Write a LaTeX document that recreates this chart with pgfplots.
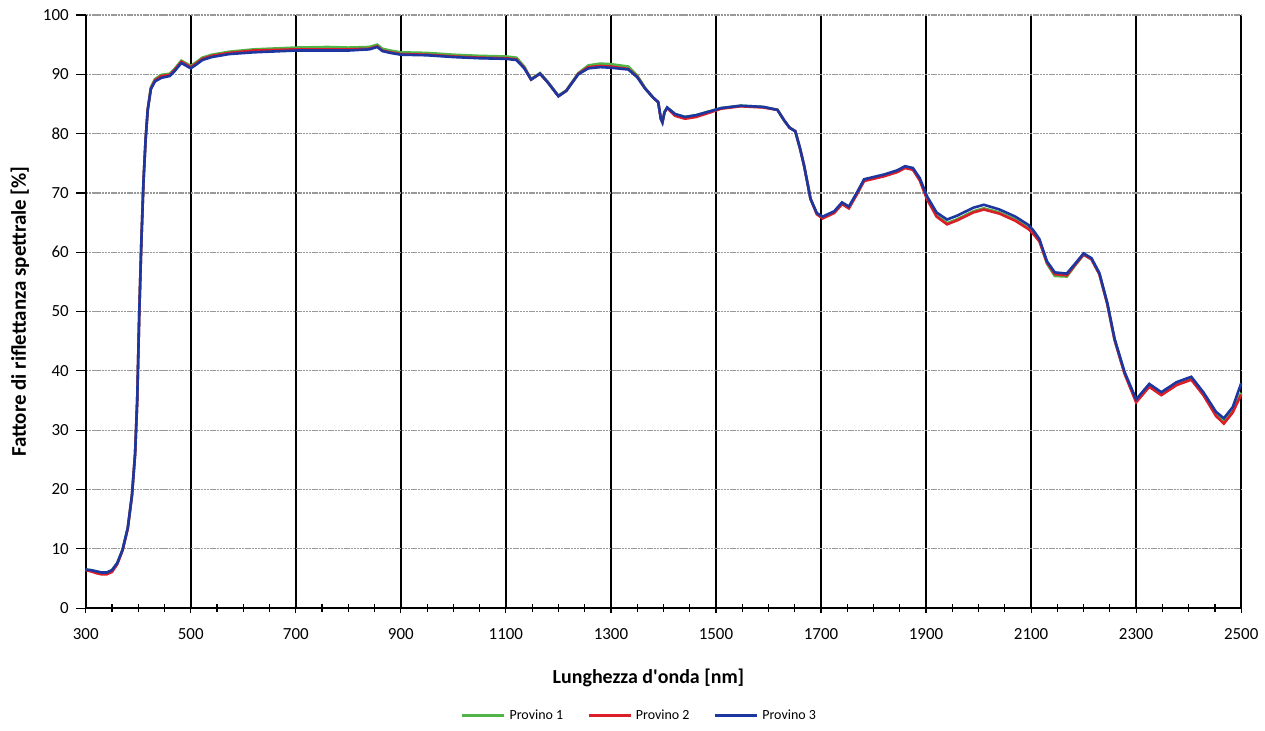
\documentclass[border=0pt]{standalone}
\usepackage{pgfplots}
\pgfplotsset{compat=1.18}
\usepackage{pgfplotstable}
\usepackage{fontspec}
\setmainfont{Carlito}
\definecolor{cg}{RGB}{80,180,70}
\definecolor{cr}{RGB}{220,30,40}
\definecolor{cb}{RGB}{30,55,160}
\pgfplotstableread{
x p1 p2 p3
300 6.5 6.4 6.5
310 6.4 6.2 6.4
320 6.2 5.9 6.2
330 6.0 5.7 6.0
340 6.0 5.7 6.0
350 6.4 6.1 6.4
360 7.6 7.4 7.6
370 9.8 9.7 9.8
380 13.5 13.4 13.5
388 19 19 19
394 26 26 26
398 35 35 35
402 50 50 50
406 62 62 62
410 72 72 72
414 79 79 79
418 84 84 84
424 87.8 87.6 87.5
432 89.2 89.0 88.8
444 89.9 89.7 89.4
460 90.1 89.9 89.7
470 91.0 90.8 90.6
482 92.3 92.1 91.9
490 91.9 91.7 91.5
500 91.4 91.2 91.0
510 92.0 91.8 91.6
522 92.8 92.6 92.4
540 93.3 93.1 92.9
573 93.8 93.6 93.4
620 94.2 94.0 93.7
700 94.5 94.2 94.0
760 94.6 94.2 94.0
800 94.5 94.2 94.0
840 94.6 94.3 94.2
855 95.0 94.7 94.6
865 94.3 94.0 93.9
880 94.0 93.7 93.6
900 93.7 93.4 93.3
950 93.6 93.3 93.2
1000 93.3 93.0 92.9
1050 93.1 92.8 92.7
1100 93.0 92.7 92.6
1120 92.8 92.5 92.4
1135 91.3 91.1 91.0
1148 89.2 89.1 89.1
1165 90.2 90.1 90.1
1180 88.7 88.6 88.6
1200 86.4 86.3 86.3
1215 87.3 87.2 87.2
1238 90.2 90.1 90.0
1257 91.5 91.2 91.0
1280 91.8 91.4 91.2
1300 91.7 91.3 91.1
1333 91.3 90.9 90.8
1350 89.8 89.6 89.5
1365 87.7 87.6 87.6
1380 86.1 86.1 86.1
1390 85.3 85.3 85.3
1395 82.5 82.5 82.5
1398 81.9 81.9 81.9
1402 83.6 83.6 83.6
1407 84.4 84.3 84.4
1422 83.3 83.0 83.3
1441 82.8 82.5 82.8
1462 83.1 82.8 83.1
1490 83.8 83.6 83.8
1510 84.3 84.2 84.3
1547 84.7 84.6 84.7
1590 84.5 84.4 84.5
1617 84.0 84.0 84.0
1630 82.2 82.2 82.2
1640 81.0 81.0 81.0
1651 80.4 80.4 80.4
1660 77.5 77.5 77.5
1668 74.5 74.5 74.5
1680 69.0 69.0 69.0
1692 66.5 66.4 66.6
1703 65.8 65.7 66.0
1725 66.7 66.6 66.9
1740 68.2 68.1 68.4
1753 67.5 67.4 67.7
1768 69.8 69.7 70.0
1782 72.1 72.0 72.3
1820 72.9 72.8 73.1
1845 73.6 73.5 73.8
1860 74.3 74.2 74.5
1875 74.0 73.9 74.2
1888 72.2 72.1 72.5
1902 69.0 68.9 69.4
1920 66.2 66.0 66.7
1940 64.9 64.7 65.5
1960 65.6 65.4 66.2
1990 66.9 66.7 67.5
2010 67.4 67.2 68.0
2040 66.7 66.5 67.2
2070 65.5 65.3 66.0
2095 64.1 63.9 64.6
2105 63.2 63.0 63.6
2116 61.9 61.8 62.2
2130 58.1 58.3 58.5
2145 56.0 56.3 56.6
2168 55.9 56.1 56.4
2185 57.9 58.0 58.2
2200 59.6 59.6 59.8
2215 58.8 58.8 59.0
2230 56.3 56.3 56.5
2245 51.3 51.3 51.5
2259 45.2 45.2 45.4
2278 39.6 39.5 39.8
2300 34.9 34.7 35.2
2325 37.5 37.3 37.8
2348 36.1 35.9 36.4
2377 37.8 37.6 38.1
2405 38.7 38.5 39.0
2428 36.1 35.9 36.4
2452 32.6 32.4 33.1
2467 31.5 31.1 32.0
2484 33.3 33.0 33.9
2500 36.3 36.0 37.9
}\data
\begin{document}
\begin{tikzpicture}
\begin{axis}[
  scale only axis,
  width=579.5pt, height=297.5pt,
  xmin=300, xmax=2500, ymin=0, ymax=100,
  xtick={300,500,...,2500},
  ytick={0,10,...,100},
  minor x tick num=3,
  axis lines=left,
  axis line style={-, black, line width=1pt},
  xtick align=center,
  ytick align=outside,
  major tick length=5pt,
  minor tick length=4pt,
  tick style={black, line width=0.6pt},
  grid=major,
  x grid style={black, line width=0.8pt},
  y grid style={gray!80, line width=0.6pt, dash pattern=on 1.2pt off 0.4pt},
  /pgf/number format/assume math mode=true,
  /pgf/number format/1000 sep={},
  ticklabel style={font=\fontsize{8.5}{10}\selectfont},
  xticklabel style={yshift=-4pt},
  yticklabel style={xshift=0pt},
  xlabel={\textbf{Lunghezza d\textquotesingle onda [nm]}},
  ylabel={\textbf{Fattore di riflettanza spettrale [\%]}},
  xlabel style={font=\fontsize{10}{12}\selectfont, at={(axis description cs:0.487,0)}, anchor=center, yshift=-35pt},
  ylabel style={font=\fontsize{10.5}{12}\selectfont, at={(axis description cs:0,0.5)}, anchor=center, yshift=33pt},
  legend style={at={(axis description cs:0.48,0)}, anchor=center, yshift=-54pt,
    draw=none, font=\fontsize{7}{9}\selectfont, /tikz/every even column/.append style={column sep=10pt}},
  legend columns=3,
  legend image code/.code={\draw[#1, line width=1.5pt] (0pt,0pt) -- (21pt,0pt);},
  clip=false,
]
\addplot[cg, line width=1.3pt] table[x=x, y=p1] {\data};
\addlegendentry{Provino 1}
\addplot[cr, line width=1.3pt] table[x=x, y=p2] {\data};
\addlegendentry{Provino 2}
\addplot[cb, line width=1.3pt] table[x=x, y=p3] {\data};
\addlegendentry{Provino 3}
\end{axis}
\path ([xshift=-43pt,yshift=-59.5pt]current axis.south west) rectangle ([xshift=10pt,yshift=7.5pt]current axis.north east);
\end{tikzpicture}
\end{document}
